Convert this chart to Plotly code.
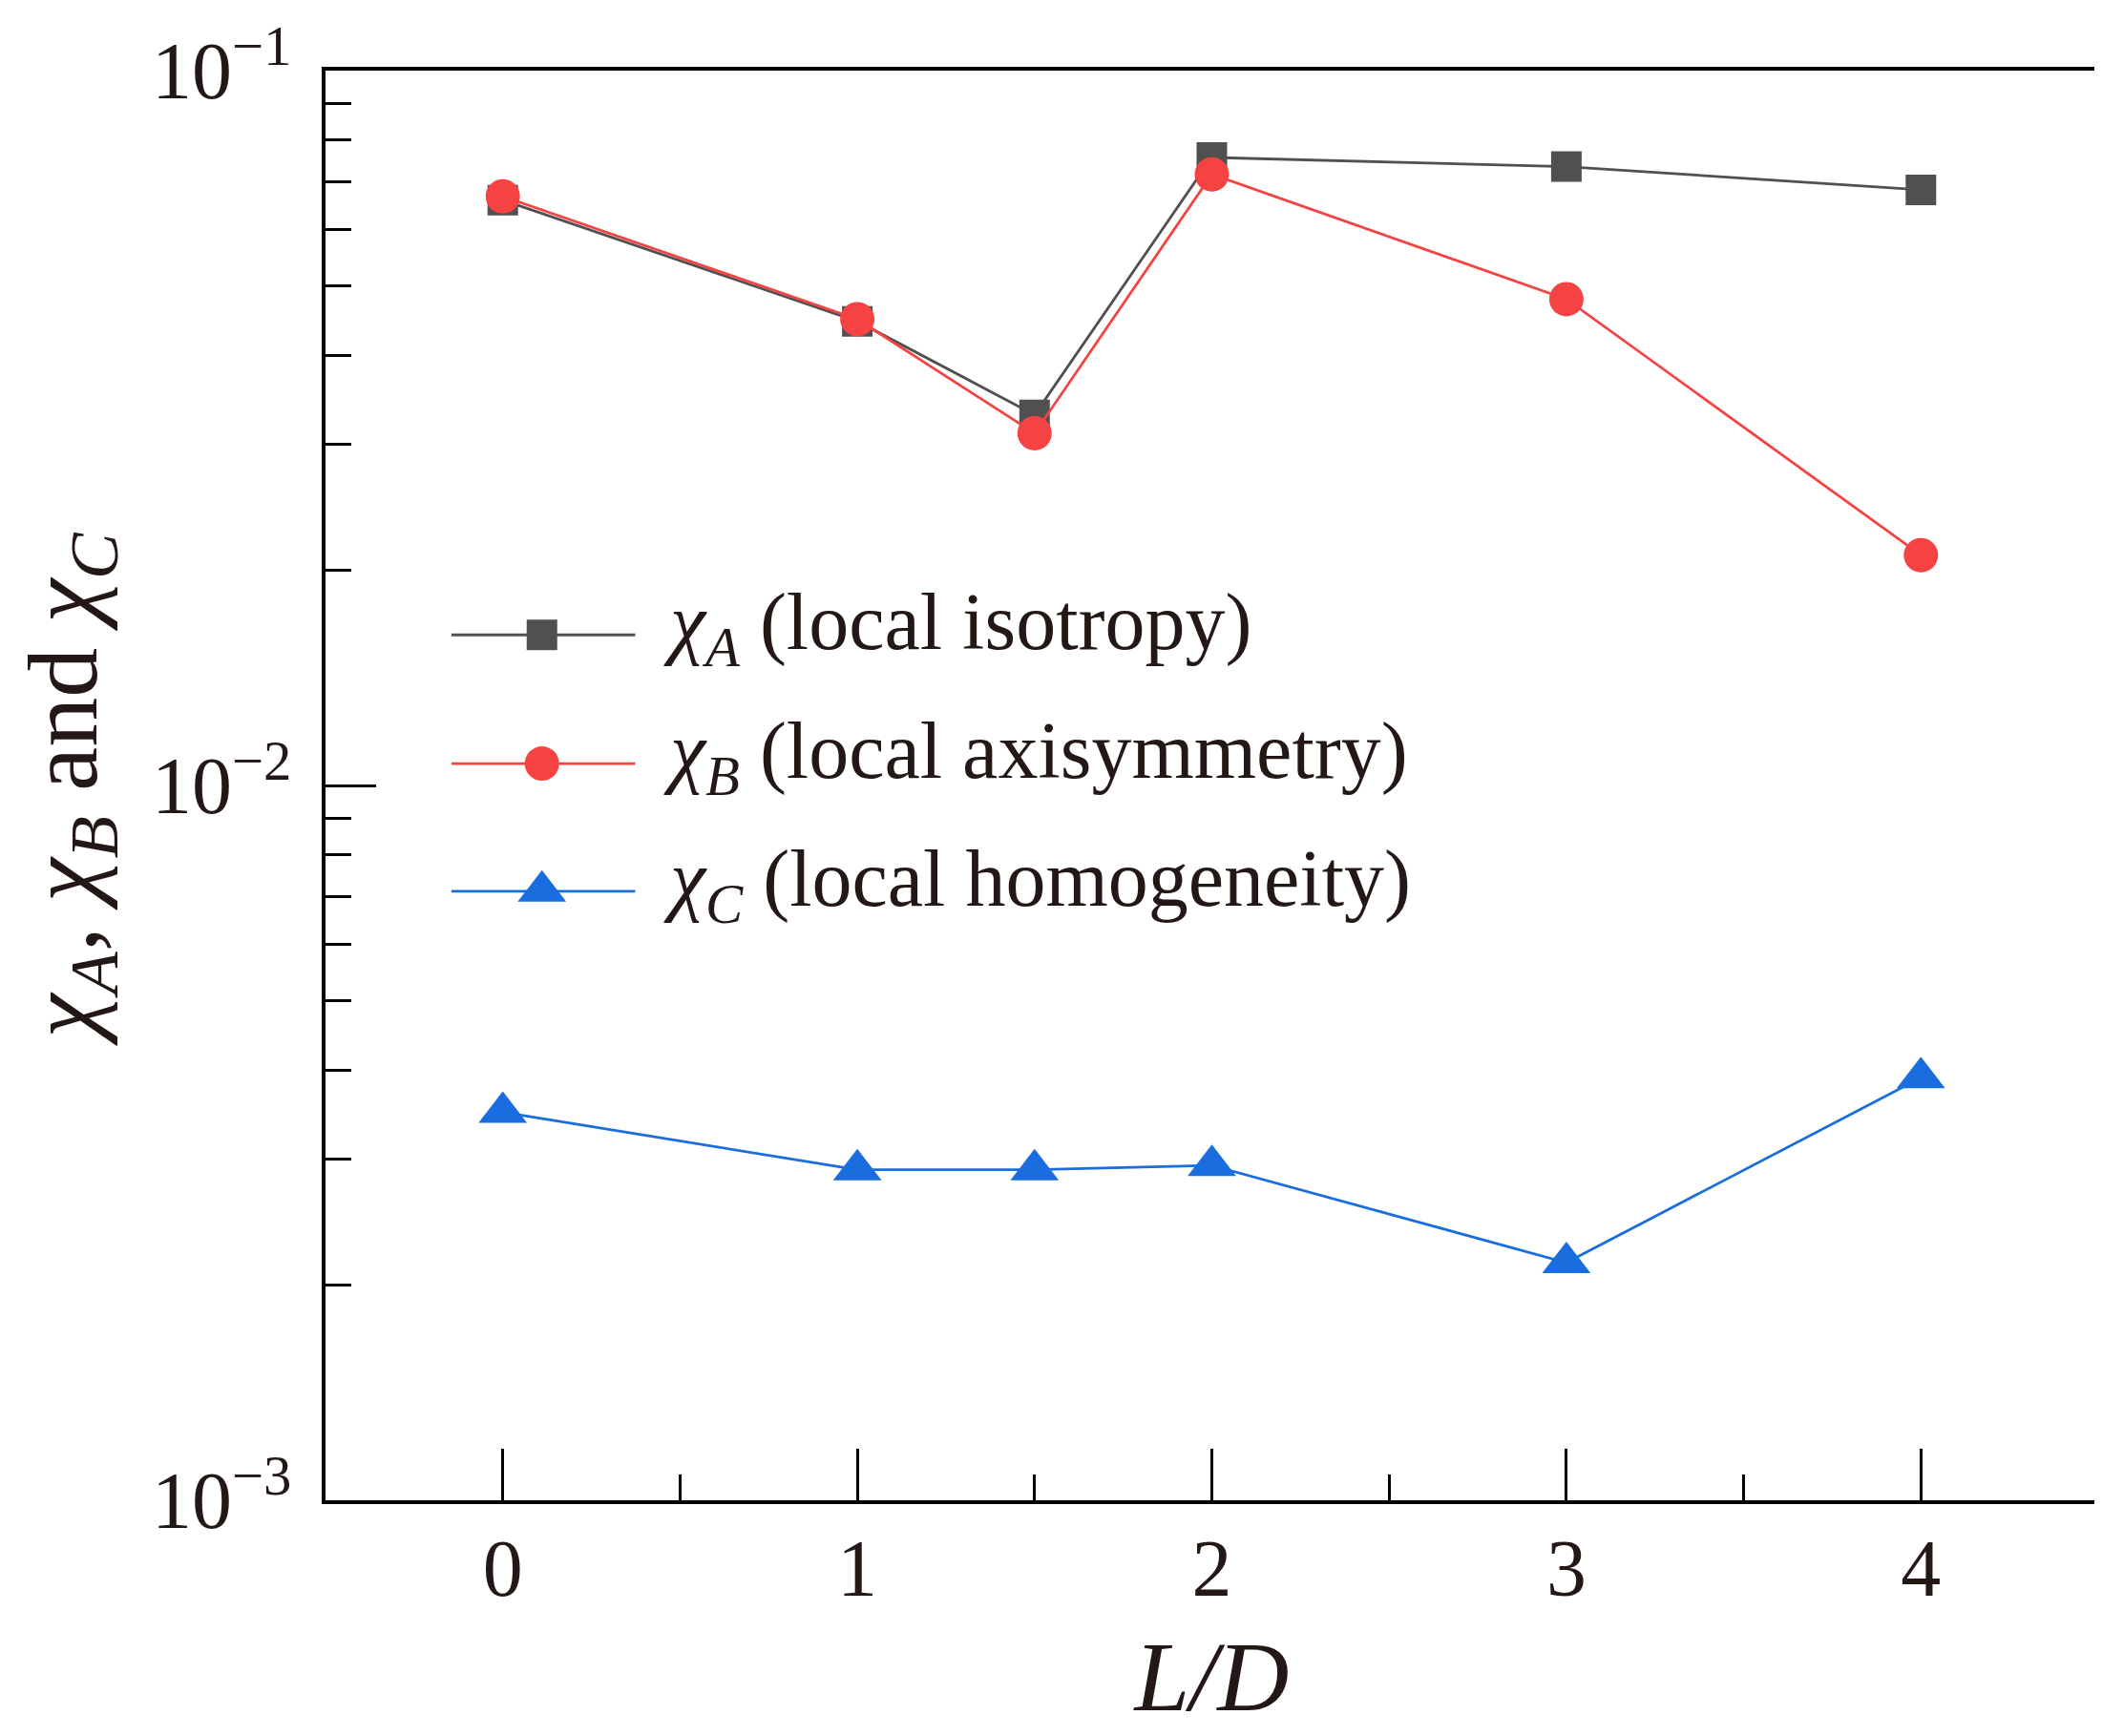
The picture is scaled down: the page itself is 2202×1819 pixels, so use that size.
import plotly.graph_objects as go

# L/D positions and the three indicators
ld = [0, 1, 1.5, 2, 3, 4]
chi_a = [0.0659, 0.0446, 0.0330, 0.0756, 0.0734, 0.0681]
chi_b = [0.0667, 0.0449, 0.0311, 0.0716, 0.0479, 0.0210]
chi_c = [0.00349, 0.00290, 0.00290, 0.00294, 0.00215, 0.00390]

names = [
    "<i>χ<sub>A</sub></i> (local isotropy)",
    "<i>χ<sub>B</sub></i> (local axisymmetry)",
    "<i>χ<sub>C</sub></i> (local homogeneity)",
]
colors = ["#505050", "#f54343", "#1a6ddf"]
symbols = ["square", "circle", "triangle-up"]
sizes = [32, 36, 44]

x_ticks = [0, 1, 2, 3, 4]
y_ticks = [1e-3, 1e-2, 1e-1]
y_ticktext = ["10<sup>−3</sup>", "10<sup>−2</sup>", "10<sup>−1</sup>"]
y_minor = [m * 10.0 ** e for e in (-3, -2) for m in range(2, 10)]

FONT = "Liberation Serif"
TXT = "#231815"

fig = go.Figure()
for ys, c, s, sz in zip([chi_a, chi_b, chi_c], colors, symbols, sizes):
    fig.add_trace(go.Scatter(
        x=ld, y=ys, mode="lines+markers",
        line=dict(color=c, width=2.8),
        marker=dict(symbol=s, size=sz, color=c, line=dict(width=0)),
        showlegend=False, cliponaxis=False))

# hand-made legend (long key lines as in the original)
leg_rows = [0.6053, 0.5153, 0.426]
key_x0, key_xm, key_x1, text_x = 0.071, 0.1221, 0.1747, 0.1895
shapes = []
annotations = []
for yr, c, s, sz, nm in zip(leg_rows, colors, symbols, sizes, names):
    shapes.append(dict(type="line", xref="x domain", yref="y domain",
                       x0=key_x0, x1=key_x1, y0=yr, y1=yr, layer="below",
                       line=dict(color=c, width=2.8)))
    fig.add_trace(go.Scatter(
        x=[key_xm], y=[yr], xaxis="x2", yaxis="y2", mode="markers",
        marker=dict(symbol=s, size=sz, color=c, line=dict(width=0)),
        showlegend=False))
    annotations.append(dict(xref="x domain", yref="y domain", x=text_x, y=yr,
                            xanchor="left", yanchor="middle", showarrow=False,
                            yshift=7, text=nm,
                            font=dict(family=FONT, size=84, color=TXT)))

fig.update_layout(
    width=2202, height=1819,
    margin=dict(l=333, r=8, t=64, b=255),
    paper_bgcolor="white", plot_bgcolor="white",
    font=dict(family=FONT, size=84, color=TXT),
    showlegend=False,
    shapes=shapes, annotations=annotations,
    xaxis=dict(
        range=[-0.5, 4.5], tickvals=x_ticks,
        showline=True, linecolor="black", linewidth=3.5, mirror=True,
        ticks="inside", ticklen=54, tickwidth=3, tickcolor="black",
        minor=dict(tick0=0.5, dtick=1, ticks="inside", ticklen=27,
                   tickwidth=3, tickcolor="black", showgrid=False),
        showgrid=False, zeroline=False,
        tickfont=dict(family=FONT, size=84, color=TXT),
        ticklabelstandoff=-5,
        title=dict(text="<i>L/D</i>", standoff=32,
                   font=dict(family=FONT, size=104, color=TXT))),
    yaxis=dict(
        type="log", range=[-3, -1], tickvals=y_ticks, ticktext=y_ticktext,
        showline=True, linecolor="black", linewidth=3.5, mirror=True,
        ticks="inside", ticklen=53, tickwidth=3, tickcolor="black",
        minor=dict(tickvals=y_minor, ticks="inside", ticklen=27,
                   tickwidth=3, tickcolor="black", showgrid=False),
        showgrid=False, zeroline=False,
        tickfont=dict(family=FONT, size=84, color=TXT),
        ticklabelstandoff=15,
        title=dict(text="<i>χ<sub>A</sub></i>, <i>χ<sub>B</sub></i> and <i>χ<sub>C</sub></i>",
                   standoff=40, font=dict(family=FONT, size=104, color=TXT))),
    xaxis2=dict(overlaying="x", range=[0, 1], visible=False),
    yaxis2=dict(overlaying="y", range=[0, 1], visible=False),
)

fig.write_html("out.html")
